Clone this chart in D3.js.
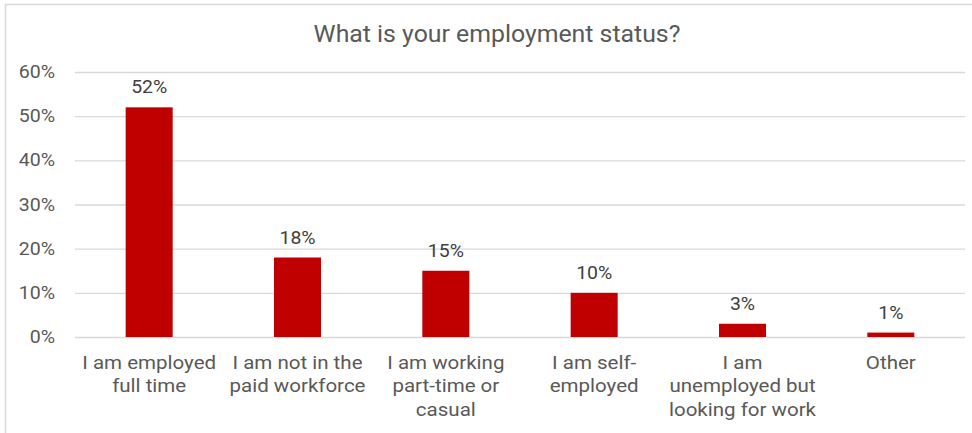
<!DOCTYPE html>
<html>
<head>
<meta charset="utf-8">
<script src="https://cdn.jsdelivr.net/npm/d3@7"></script>
<style>
  html, body { margin: 0; padding: 0; background: #fff; }
  svg { display: block; font-family: Roboto, "Noto Sans", sans-serif; }
</style>
</head>
<body>
<svg id="chart" width="972" height="433"></svg>
<script>
// Survey responses: employment status
const categories = [
  ["I am employed", "full time"],
  ["I am not in the", "paid workforce"],
  ["I am working", "part-time or", "casual"],
  ["I am self-", "employed"],
  ["I am", "unemployed but", "looking for work"],
  ["Other"]
];
const shares = [52, 18, 15, 10, 3, 1];
const yTicks = [0, 10, 20, 30, 40, 50, 60];
const chartTitle = "What is your employment status?";

const svg = d3.select("#chart");
const W = 972, H = 433;
const margin = { left: 75, right: 7, top: 72, bottom: 96 };
const stretch = 1.08; // slightly wide lettering

// chart frame
svg.append("rect")
  .attr("x", 5.5).attr("y", 4.5)
  .attr("width", W + 10).attr("height", H + 10)
  .attr("fill", "#fff").attr("stroke", "#d9d9d9").attr("stroke-width", 1.5);

const x = d3.scaleBand()
  .domain(d3.range(categories.length))
  .range([margin.left, W - margin.right])
  .paddingInner(0.683).paddingOuter(0.3415);

const y = d3.scaleLinear().domain([0, 60]).range([H - margin.bottom, margin.top]);

// title
svg.append("text")
  .attr("transform", `translate(497,42) scale(${stretch},1)`)
  .attr("text-anchor", "middle")
  .attr("fill", "#595959")
  .attr("font-size", 23)
  .text(chartTitle);

// gridlines + y axis labels
const yAxis = d3.axisLeft(y)
  .tickValues(yTicks)
  .tickSize(-(W - margin.right - margin.left))
  .tickPadding(20)
  .tickFormat(d => d + "%");
const gy = svg.append("g").attr("transform", `translate(${margin.left},0)`).call(yAxis);
gy.select(".domain").remove();
gy.selectAll(".tick line").attr("stroke", "#d9d9d9").attr("stroke-width", 1.3);
gy.selectAll(".tick text")
  .attr("x", 0)
  .attr("transform", "translate(-20,0) scale(1.12,1)")
  .attr("fill", "#595959").attr("font-size", 17.5)
  .attr("font-family", "Roboto, sans-serif");

// bars
svg.append("g").selectAll("rect")
  .data(shares)
  .join("rect")
  .attr("x", (d, i) => x(i))
  .attr("width", x.bandwidth())
  .attr("y", d => y(d))
  .attr("height", d => y(0) - y(d))
  .attr("fill", "#c00000");

// value labels
svg.append("g").selectAll("text")
  .data(shares)
  .join("text")
  .attr("transform", (d, i) =>
    `translate(${x(i) + x.bandwidth() / 2},${y(d) - 14}) scale(${stretch},1)`)
  .attr("text-anchor", "middle")
  .attr("fill", "#404040")
  .attr("font-size", 18)
  .text(d => d + "%");

// category labels
const cat = svg.append("g").selectAll("text")
  .data(categories)
  .join("text")
  .attr("transform", (d, i) =>
    `translate(${x(i) + x.bandwidth() / 2},${H - margin.bottom + 32}) scale(${stretch},1)`)
  .attr("text-anchor", "middle")
  .attr("fill", "#595959")
  .attr("font-size", 19);
cat.selectAll("tspan")
  .data(d => d)
  .join("tspan")
  .attr("x", 0)
  .attr("dy", (d, i) => i === 0 ? 0 : 23.5)
  .text(d => d);
</script>
</body>
</html>
